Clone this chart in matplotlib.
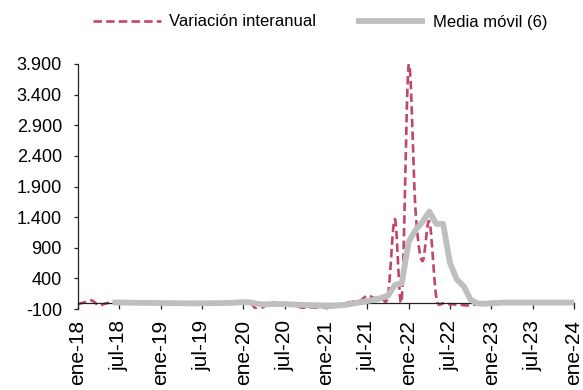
import numpy as np
import matplotlib
matplotlib.use("Agg")
import matplotlib.pyplot as plt
from matplotlib.ticker import FuncFormatter

# monthly data, ene-18 .. ene-24 (month index 0..72)
var_interanual = [-20, 10, 40, -40, -10, 10, 5, 0, -5, 5, 0, -10,
                  -5, 0, 5, -5, -10, 0, 5, -5, 0, -10, 5, 10,
                  20, 0, -110, -60, 10, -10, -20, -30, -60, -100, -110, -100,
                  -110, -70, -30, 0, 20, 40, 120, 80, 90, 120, 1370, 60,
                  3890, 1500, 680, 1330, 100, -10, -20, -30, -40, -40, -20, 0,
                  5, 10, 5, 0, 5, 10, 5, 10, 15, 10, 20, 10,
                  15]

# 6 month moving average, first value at jun-18 (index 5)
media_movil_start = 5
media_movil = [5, 5, 5, 3, 0, 0, -2,
               -3, -5, -5, -5, -8, -8, -8, -5, -5, -3, 0, 5,
               10, 8, -15, -25, -20, -20, -20, -25, -30, -35, -40, -45,
               -50, -50, -40, -30, -10, 10, 30, 50, 80, 120, 290, 320,
               1000, 1190, 1320, 1490, 1290, 1290, 650, 380, 270, 50, -10, -15,
               -5, 0, 5, 5, 5, 5, 5, 5, 5, 5, 5, 5,
               5]

tick_labels = ["ene-18", "jul-18", "ene-19", "jul-19", "ene-20", "jul-20",
               "ene-21", "jul-21", "ene-22", "jul-22", "ene-23", "jul-23", "ene-24"]

RED = "#C0476B"
GREY = "#BFBFBF"


def smooth_line(x, y, n=12):
    # catmull-rom curve through the points, like excel's smoothed line
    x = np.asarray(x, float)
    y = np.asarray(y, float)
    px = np.concatenate([[x[0]], x, [x[-1]]])
    py = np.concatenate([[y[0]], y, [y[-1]]])
    t = np.linspace(0, 1, n, endpoint=False)
    xs, ys = [], []
    for i in range(1, len(px) - 2):
        for arr, out in ((px, xs), (py, ys)):
            p0, p1, p2, p3 = arr[i - 1], arr[i], arr[i + 1], arr[i + 2]
            out.extend(0.5 * (2 * p1 + (-p0 + p2) * t
                              + (2 * p0 - 5 * p1 + 4 * p2 - p3) * t ** 2
                              + (-p0 + 3 * p1 - 3 * p2 + p3) * t ** 3))
    xs.append(x[-1])
    ys.append(y[-1])
    return np.array(xs), np.array(ys)


plt.rcParams["font.family"] = ["Liberation Sans", "DejaVu Sans"]

fig = plt.figure(figsize=(5.83, 3.90), dpi=100)
ax = fig.add_axes([78 / 583, 1 - 309 / 390, (574 - 78) / 583, (309 - 64) / 390])

months = np.arange(len(var_interanual))
sx, sy = smooth_line(months, var_interanual)
ax.plot(sx, sy, color=RED, lw=1.9, dashes=(3.2, 1.6), label="Variación interanual",
        dash_capstyle="butt", zorder=2)

mm_x = np.arange(media_movil_start, media_movil_start + len(media_movil))
ax.plot(mm_x, media_movil, color=GREY, lw=4.2, solid_joinstyle="round",
        solid_capstyle="butt", label="Media móvil (6)", zorder=3)

ax.set_xlim(0, 72)
ax.set_ylim(-100, 3900)
ax.set_yticks(np.arange(-100, 3901, 500))
ax.yaxis.set_major_formatter(FuncFormatter(lambda v, p: f"{v:,.0f}".replace(",", ".")))
ax.set_xticks(np.arange(0, 73, 6))
ax.set_xticklabels(tick_labels)

for s in ("top", "right"):
    ax.spines[s].set_visible(False)
ax.spines["bottom"].set_position(("data", 0))
ax.spines["bottom"].set_color("#222222")
ax.spines["bottom"].set_linewidth(0.9)
ax.spines["left"].set_color("#222222")
ax.spines["left"].set_linewidth(0.9)

ax.tick_params(axis="x", direction="out", length=4.3, width=0.9, pad=8,
               labelsize=15, colors="#222222", labelcolor="black", labelrotation=90)
ax.tick_params(axis="y", direction="out", length=3, width=0.9, pad=8.6,
               labelsize=13, colors="#222222", labelcolor="black")

fig.legend(loc="center", bbox_to_anchor=(320 / 583, 1 - 22 / 390), ncol=2,
           frameon=False, fontsize=12, handlelength=4.1, handletextpad=0.5,
           columnspacing=2.4, borderpad=0)

fig.savefig("out.png", dpi=100)
